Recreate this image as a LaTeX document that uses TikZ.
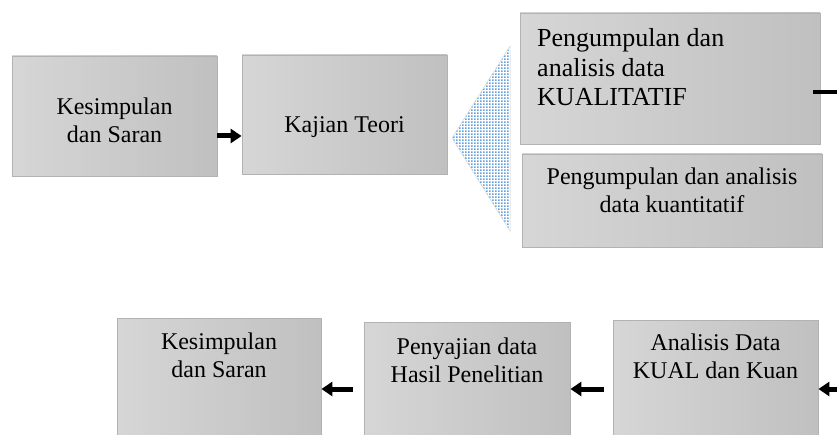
\documentclass[tikz,border=0pt]{standalone}
\usepackage{fontspec}
\setmainfont{Liberation Serif}
\usetikzlibrary{arrows.meta,patterns,calc}
\pgfdeclarepatternformonly{sqdots}{\pgfpointorigin}{\pgfqpoint{3pt}{3pt}}{\pgfqpoint{3pt}{3pt}}{%
  \pgfpathrectangle{\pgfpointorigin}{\pgfqpoint{2pt}{2pt}}\pgfusepath{fill}}
\definecolor{boxL}{RGB}{214,214,214}
\definecolor{boxR}{RGB}{192,192,192}
\definecolor{boxB}{RGB}{178,178,178}
\definecolor{dotblue}{RGB}{104,160,222}
\begin{document}
\begin{tikzpicture}[x=1pt,y=-1pt,
  box/.style={draw=boxB, line width=0.8pt, left color=boxL, right color=boxR},
  txt/.style={font=\fontsize{24}{28}\selectfont, align=center, inner sep=0pt, anchor=base},
  bigtxt/.style={font=\fontsize{26}{29.5}\selectfont, align=left, inner sep=0pt, anchor=base west},
  fat/.style={line width=5pt, -{Triangle[length=11pt,width=14pt]}},
  fatline/.style={line width=4.5pt}]
\useasboundingbox (0,0) rectangle (837,435);
% top row boxes
\node[box, minimum width=205pt, minimum height=120pt, inner sep=0pt] (b1) at (114.5,116) {};
\node[box, minimum width=205pt, minimum height=119pt, inner sep=0pt] (b2) at (344.5,114.5) {};
\node[box, minimum width=300pt, minimum height=131pt, inner sep=0pt] (b3) at (670,78.5) {};
\node[box, minimum width=300pt, minimum height=93pt, inner sep=0pt] (b4) at (672,200.5) {};
% bottom row boxes
\node[box, minimum width=204pt, minimum height=122pt, inner sep=0pt] (b5) at (219,379) {};
\node[box, minimum width=206pt, minimum height=118pt, inner sep=0pt] (b6) at (467,381) {};
\node[box, minimum width=205pt, minimum height=120pt, inner sep=0pt] (b7) at (715.5,380) {};
% triangle
\coordinate (tA) at (452,138);
\coordinate (tT) at (510,46);
\coordinate (tB) at (510,231);
\fill[white] (tA) -- (tT) -- (tB) -- cycle;
\fill[pattern=sqdots, pattern color=dotblue] (tA) -- (tT) -- (tB) -- cycle;
\draw[gray!30, line width=0.5pt] (tA) -- (tT) -- (tB) -- cycle;
% texts (base anchor = last line baseline)
\node[txt] (t1) at (114.5,143) {Kesimpulan\\dan Saran};
\node[txt] (t2) at (344.5,133) {Kajian Teori};
\node[txt] (t4) at (672,213) {Pengumpulan dan analisis\\data kuantitatif};
\node[txt] (t5) at (219,377) {Kesimpulan\\dan Saran};
\node[txt] (t6) at (467,382) {Penyajian data\\Hasil Penelitian};
\node[txt] (t7) at (715.5,378) {Analisis Data\\KUAL dan Kuan};
\node[bigtxt] (t3) at (537,106) {Pengumpulan dan\\analisis data\\KUALITATIF};
% connectors
\draw[fat] (b1.east |- 0,136) -- (b2.west |- 0,136);
\coordinate (outR) at (845,92);
\draw[fatline] ($(b3.east |- 0,92)+(-7,0)$) -- (outR);
\draw[fat] ($(b6.west |- 0,389)+(-11,0)$) -- (b5.east |- 0,389);
\draw[fat] ($(b7.west |- 0,389)+(-9,0)$) -- (b6.east |- 0,389);
\coordinate (inR) at (845,389);
\draw[fat] (inR) -- (b7.east |- 0,389);
\end{tikzpicture}
\end{document}
